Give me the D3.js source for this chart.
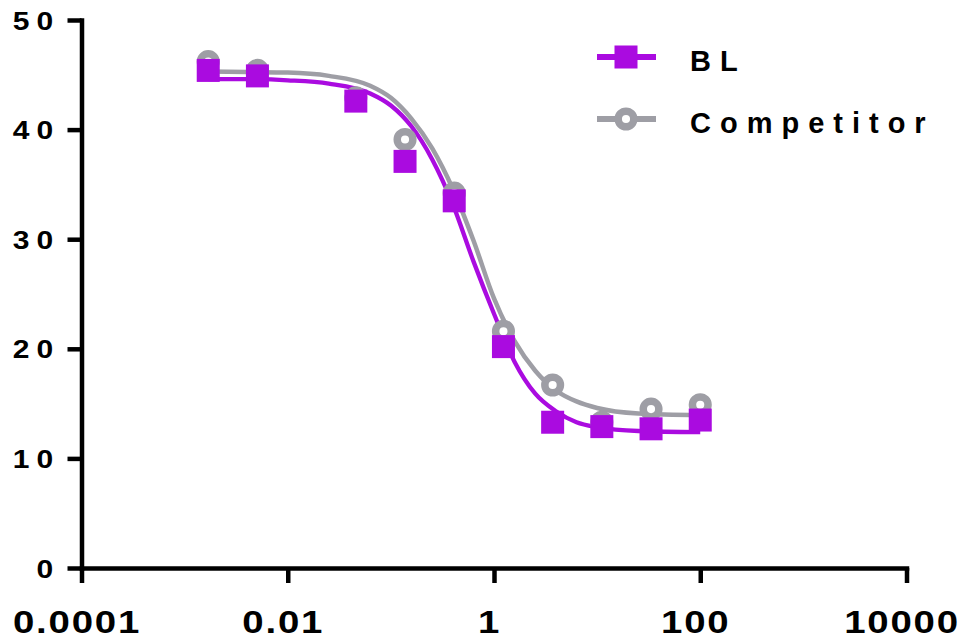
<!DOCTYPE html>
<html>
<head>
<meta charset="utf-8">
<script src="https://cdn.jsdelivr.net/npm/d3@7"></script>
<style>
  html, body { margin: 0; padding: 0; background: #ffffff; }
  svg { display: block; }
  text { font-family: "Liberation Sans", Arial, sans-serif; font-weight: bold; fill: #000; }
</style>
</head>
<body>
<svg id="chart" width="968" height="642"></svg>
<script>
// ---- data ----
const concentrations = [0.001694, 0.005081, 0.04572, 0.1372, 0.4115, 1.235, 3.704, 11.11, 33.33, 100];
const blValues         = [45.4, 44.9, 42.6, 37.1, 33.5, 20.2, 13.3, 12.9, 12.7, 13.5];
const competitorValues = [46.2, 45.4, 42.9, 39.1, 34.2, 21.6, 16.7, 13.3, 14.5, 14.9];

// fitted curves
const curveX          = [0.0017, 0.004, 0.01, 0.025, 0.063, 0.1, 0.158, 0.251, 0.398, 0.631, 1, 1.585, 2.512, 3.981, 6.31, 10, 25.12, 100];
const blCurve         = [44.6, 44.6, 44.5, 44.2, 43.3, 42.2, 40.3, 37.3, 33.2, 28.0, 23.2, 18.8, 15.9, 14.3, 13.3, 12.85, 12.5, 12.4];
const competitorCurve = [45.3, 45.25, 45.2, 44.9, 44.0, 42.9, 41.0, 38.3, 34.6, 29.9, 24.6, 20.7, 18.0, 16.2, 15.2, 14.6, 14.1, 13.95];

const xTickValues = [0.0001, 0.01, 1, 100, 10000];
const xTickLabels = ["0.0001", "0.01", "1", "100", "10000"];
const yTickValues = [0, 10, 20, 30, 40, 50];
const yTickLabels = ["0", "10", "20", "30", "40", "50"];
const seriesNames = ["BL", "Competitor"];

// ---- styling ----
const purple = "#AA0BE0";
const grey = "#9E9EA5";

const svg = d3.select("#chart");
const x = d3.scaleLog().domain([1e-4, 1e4]).range([81.5, 906.5]);
const y = d3.scaleLinear().domain([0, 50]).range([568, 20]);

// axes
const xAxis = d3.axisBottom(x)
  .tickValues(xTickValues)
  .tickFormat((d, i) => xTickLabels[i])
  .tickSize(15).tickSizeOuter(0).tickPadding(12);
const yAxis = d3.axisLeft(y)
  .tickValues(yTickValues)
  .tickFormat((d, i) => yTickLabels[i])
  .tickSize(14).tickSizeOuter(0).tickPadding(4);

const gx = svg.append("g").attr("transform", `translate(0,${y(0)})`).call(xAxis);
const gy = svg.append("g").attr("transform", `translate(${x(1e-4)},0)`).call(yAxis);

[gx, gy].forEach(g => {
  g.select(".domain").attr("stroke", "#000").attr("stroke-width", 4.5).attr("stroke-linecap", "square");
  g.selectAll(".tick line").attr("stroke", "#000").attr("stroke-width", 4.5);
});
gx.selectAll(".tick text")
  .attr("font-size", 32).attr("font-family", "Liberation Sans, Arial, sans-serif")
  .attr("font-weight", "bold").attr("fill", "#000")
  .attr("y", 0).attr("dy", "0.71em")
  .attr("transform", "translate(-5,42) scale(1.2,1)")
  .style("letter-spacing", "1.5px");
gy.selectAll(".tick text")
  .attr("font-size", 25).attr("font-family", "Liberation Sans, Arial, sans-serif")
  .attr("font-weight", "bold").attr("fill", "#000")
  .attr("x", 0).attr("dy", "0.36em")
  .attr("transform", "translate(-21,0) scale(1.2,1)")
  .style("letter-spacing", "6px");

// curves
const line = d3.line().x(d => x(d[0])).y(d => y(d[1])).curve(d3.curveMonotoneX);
const greyCurvePts = curveX.map((c, i) => [c, competitorCurve[i]]);
const blCurvePts = curveX.map((c, i) => [c, blCurve[i]]);

svg.append("path").datum(greyCurvePts).attr("d", line)
  .attr("fill", "none").attr("stroke", grey).attr("stroke-width", 4.5);
svg.append("path").datum(blCurvePts).attr("d", line)
  .attr("fill", "none").attr("stroke", purple).attr("stroke-width", 4.3);

// markers
const compPts = concentrations.map((c, i) => [c, competitorValues[i]]);
const blPts = concentrations.map((c, i) => [c, blValues[i]]);

svg.append("g").selectAll("circle").data(compPts).join("circle")
  .attr("cx", d => x(d[0])).attr("cy", d => y(d[1]))
  .attr("r", 7.8).attr("fill", "#fff").attr("stroke", grey).attr("stroke-width", 7.5);

const sq = 23;
svg.append("g").selectAll("rect").data(blPts).join("rect")
  .attr("x", d => x(d[0]) - sq / 2).attr("y", d => y(d[1]) - sq / 2)
  .attr("width", sq).attr("height", sq).attr("fill", purple);

// legend
const legend = svg.append("g");
const legendRows = [
  { name: seriesNames[0], color: purple, marker: "square", cy: 57, baseline: 71 },
  { name: seriesNames[1], color: grey, marker: "circle", cy: 119, baseline: 133 }
];
legendRows.forEach(r => {
  legend.append("line").attr("x1", 597).attr("x2", 656).attr("y1", r.cy).attr("y2", r.cy)
    .attr("stroke", r.color).attr("stroke-width", 6);
  if (r.marker === "square") {
    legend.append("rect").attr("x", 626 - sq / 2).attr("y", r.cy - sq / 2)
      .attr("width", sq).attr("height", sq).attr("fill", r.color);
  } else {
    legend.append("circle").attr("cx", 626).attr("cy", r.cy).attr("r", 7.8)
      .attr("fill", "#fff").attr("stroke", r.color).attr("stroke-width", 7.5);
  }
  legend.append("text").attr("x", 690).attr("y", r.baseline)
    .attr("font-size", 29).style("letter-spacing", "9px").text(r.name);
});
</script>
</body>
</html>
